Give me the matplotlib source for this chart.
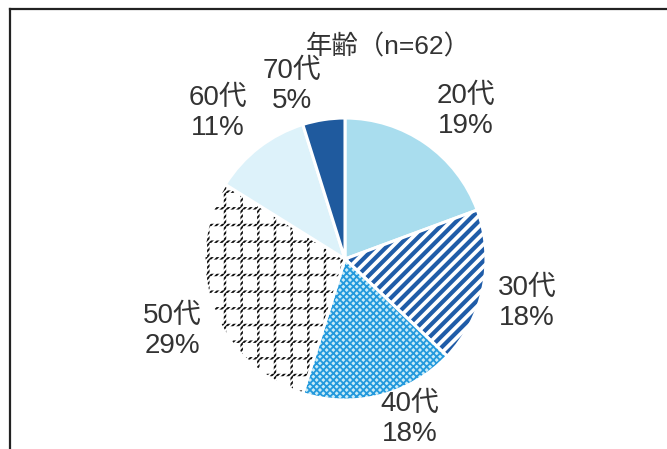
import matplotlib
matplotlib.use("Agg")
import matplotlib.pyplot as plt
from matplotlib.patches import Wedge

plt.rcParams['font.family'] = ['Liberation Sans', 'Noto Sans CJK JP', 'DejaVu Sans']

# Age breakdown of respondents (n=62)
categories = ['20代', '30代', '40代', '50代', '60代', '70代']
counts = [12, 11, 11, 18, 7, 3]
pct_labels = ['19%', '18%', '18%', '29%', '11%', '5%']
title = '年齢（n=62）'

face_colors = ['#A9DDEE', '#FFFFFF', '#C9ECF8', '#FFFFFF', '#DDF2FA', '#1F5A9E']
hatches = [None, '///', 'xxxxx', '+', None, None]
hatch_colors = [None, '#1F5CA8', '#2399DD', '#111111', None, None]
hatch_widths = [None, 3.0, 1.3, 1.8, None, None]


def style_hatch(patch, pattern, color, width):
    patch.set_hatch(pattern)
    if hasattr(patch, 'set_hatchcolor'):
        patch.set_hatchcolor(color)
    else:
        patch._hatch_color = matplotlib.colors.to_rgba(color)
    if hasattr(patch, 'set_hatch_linewidth'):
        patch.set_hatch_linewidth(width)
    else:
        patch._hatch_linewidth = width


W, H = 667, 449
fig = plt.figure(figsize=(W / 100, H / 100), dpi=100)
fig.patch.set_facecolor('white')

# chart frame (left and top edges visible)
fig.add_artist(plt.Line2D([10 / W, 10 / W], [0, 1 - 9 / H], color='#222222', lw=1.6))
fig.add_artist(plt.Line2D([10 / W, 1], [1 - 9 / H, 1 - 9 / H], color='#222222', lw=1.6))

cx, cy, r = 345, 259, 141
ax = fig.add_axes([(cx - r) / W, (H - cy - r) / H, 2 * r / W, 2 * r / H])

wedges, _ = ax.pie(counts, startangle=90, counterclock=False, radius=1,
                   colors=face_colors,
                   wedgeprops=dict(edgecolor='white', linewidth=2.2))
ax.set_xlim(-1, 1)
ax.set_ylim(-1, 1)
ax.set_aspect('auto')
ax.axis('off')

for w, h, hc, hw in zip(wedges, hatches, hatch_colors, hatch_widths):
    if h:
        style_hatch(w, h, hc, hw)

# break the 50代 grid lines into dots with a fine white diagonal screen
w50 = wedges[categories.index('50代')]
screen = Wedge(w50.center, w50.r, w50.theta1, w50.theta2, fill=False,
               edgecolor='white', linewidth=0)
style_hatch(screen, '//////', 'white', 1.4)
ax.add_patch(screen)

# label placement (pixel centres of the two-line labels)
label_pos = [(466, 111), (527, 303), (410, 419), (172, 331), (218, 113), (292, 86)]
for cat, pct, (px, py) in zip(categories, pct_labels, label_pos):
    fig.text(px / W, 1 - py / H, f'{cat}\n{pct}', ha='center', va='center',
             fontsize=20, color='#333333', linespacing=1.2)

fig.text(388 / W, 1 - 47 / H, title, ha='center', va='center',
         fontsize=19, color='#333333')

fig.savefig('out.png', dpi=100)
